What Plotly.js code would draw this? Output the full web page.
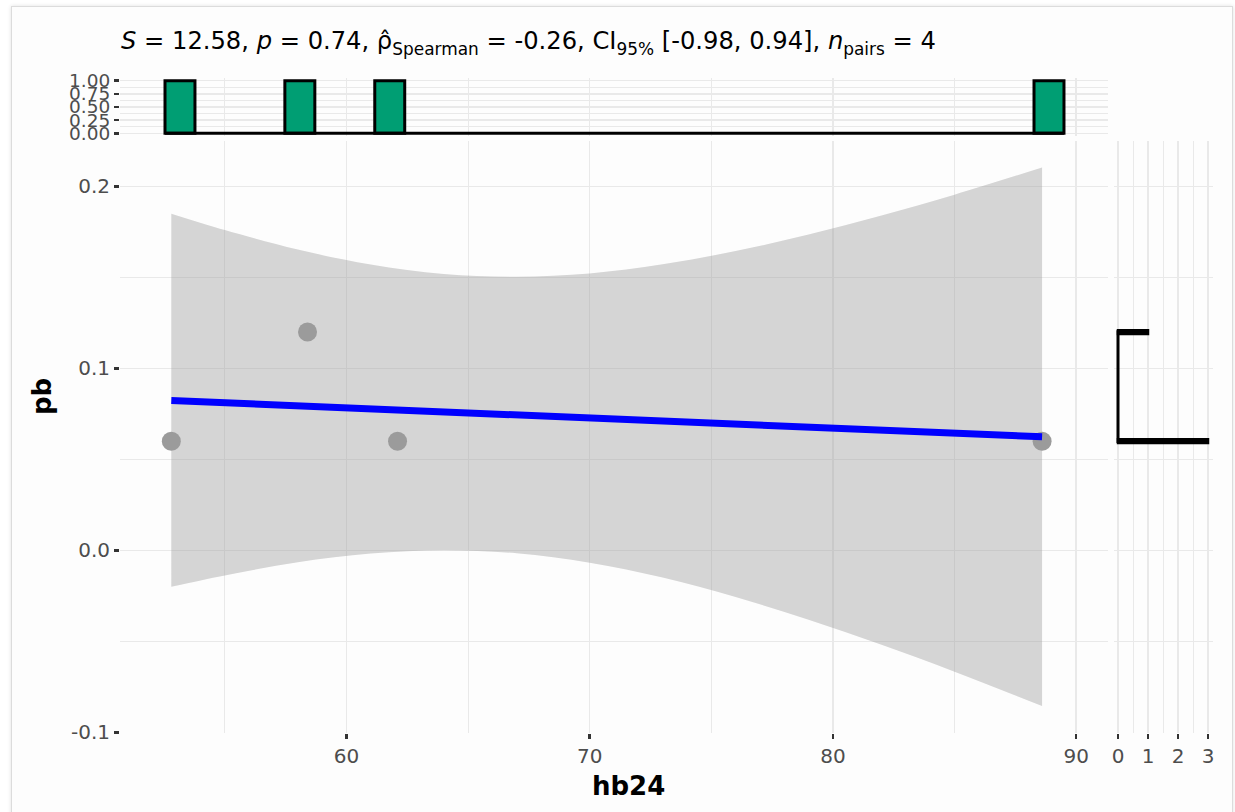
<!DOCTYPE html>
<html>
<head>
<meta charset="utf-8">
<script src="https://cdn.plot.ly/plotly-3.0.1.min.js"></script>
<style>
  html, body { margin: 0; padding: 0; background: #ffffff; width: 1235px; height: 812px; overflow: hidden; }
  #card { position: absolute; left: 11px; top: 6px; width: 1220px; height: 830px; background: #fdfdfd;
          border: 1px solid #dcdcdc; box-shadow: 0 0 4px rgba(0,0,0,0.12); }
  #chart { position: absolute; left: 0; top: 0; width: 1235px; height: 812px; }
</style>
</head>
<body>
<div id="card"></div>
<div id="chart"></div>
<script>
// ---- data ----
const hb24 = [52.8, 58.4, 62.1, 88.6];
const pb = [0.06, 0.12, 0.06, 0.06];

// fitted regression line (end points)
const fitX = [52.8, 88.6];
const fitY = [0.0823, 0.0624];

// confidence band of the fit
const bandX     = [52.8, 55, 58, 61, 64, 67, 70, 73, 76, 79, 82, 85, 88.6];
const bandUpper = [0.185, 0.176, 0.1653, 0.1571, 0.1519, 0.1504, 0.1522, 0.1572, 0.1645, 0.1736, 0.1841, 0.1955, 0.2104];
const bandLower = [-0.020, -0.0138, -0.0065, -0.0017, 0.0001, -0.0016, -0.0068, -0.0150, -0.0257, -0.0382, -0.0519, -0.0667, -0.0856];

// marginal histogram bins
const xBins = {start: 52.54, end: 89.5, size: 1.232};
const yBins = {start: 0.059, end: 0.121, size: 0.002067};

const xTickVals = [60, 70, 80, 90];
const yTickVals = [-0.1, 0.0, 0.1, 0.2];
const yTickText = ['-0.1', '0.0', '0.1', '0.2'];
const topTickVals = [0, 0.25, 0.5, 0.75, 1];
const topTickText = ['0.00', '0.25', '0.50', '0.75', '1.00'];
const rightTickVals = [0, 1, 2, 3];

const titleText = '<i>S</i> = 12.58, <i>p</i> = 0.74, \u03C1\u0302<sub>Spearman</sub> = -0.26, CI<sub>95%</sub> [-0.98, 0.94], <i>n</i><sub>pairs</sub> = 4';

// ---- styles ----
const GREEN = '#009E73';
const GRID = '#e9e9e9';
const FAMILY = 'DejaVu Sans, sans-serif';
const TICKFONT = {family: FAMILY, size: 20, color: '#4d4d4d'};
const W = 1235, H = 812;

const traces = [
  {x: bandX, y: bandLower, xaxis: 'x', yaxis: 'y', mode: 'lines', line: {width: 0, shape: 'spline'},
   hoverinfo: 'skip', showlegend: false},
  {x: bandX, y: bandUpper, xaxis: 'x', yaxis: 'y', mode: 'lines', line: {width: 0, shape: 'spline'},
   fill: 'tonexty', fillcolor: 'rgba(153,153,153,0.4)', hoverinfo: 'skip', showlegend: false},
  {x: hb24, y: pb, xaxis: 'x', yaxis: 'y', mode: 'markers',
   marker: {size: 19, color: '#9b9b9b'}, showlegend: false},
  {x: fitX, y: fitY, xaxis: 'x', yaxis: 'y', mode: 'lines',
   line: {color: '#0000ff', width: 7}, showlegend: false},
  {x: [xBins.start, xBins.end], y: [0, 0], xaxis: 'x2', yaxis: 'y2', mode: 'lines',
   line: {color: '#000', width: 3}, showlegend: false, hoverinfo: 'skip'},
  {type: 'histogram', x: hb24, xbins: xBins, autobinx: false, xaxis: 'x2', yaxis: 'y2',
   marker: {color: GREEN, line: {color: '#000', width: 3}}, showlegend: false},
  {x: [0, 0], y: [yBins.start, yBins.end], xaxis: 'x3', yaxis: 'y3', mode: 'lines',
   line: {color: '#000', width: 3}, showlegend: false, hoverinfo: 'skip'},
  {type: 'histogram', y: pb, ybins: yBins, autobiny: false, orientation: 'h', xaxis: 'x3', yaxis: 'y3',
   marker: {color: '#000', line: {color: '#000', width: 2.5}}, showlegend: false}
];

const mainXDomain = [120 / W, 1108 / W];
const mainYDomain = [(H - 733) / H, (H - 140.6) / H];
const tickStyle = {ticks: 'outside', ticklen: 5, tickwidth: 2.5, tickcolor: '#333333', tickfont: TICKFONT,
                   showline: false, zeroline: false, showgrid: true, gridcolor: GRID, gridwidth: 1.5};

const layout = {
  width: W, height: H,
  margin: {l: 0, r: 0, t: 0, b: 0},
  paper_bgcolor: 'rgba(0,0,0,0)',
  plot_bgcolor: 'rgba(0,0,0,0)',
  font: {family: FAMILY},
  bargap: 0,
  showlegend: false,
  title: {text: titleText, x: 121 / W, xanchor: 'left', xref: 'paper', y: 1 - 41 / H, yanchor: 'middle', yref: 'paper',
          font: {family: FAMILY, size: 24.2, color: '#000'}},
  xaxis: Object.assign({}, tickStyle, {domain: mainXDomain, range: [50.69, 91.31], anchor: 'y',
          tickvals: xTickVals, minor: {dtick: 5, tick0: 0, showgrid: true, gridcolor: GRID, gridwidth: 1}}),
  yaxis: Object.assign({}, tickStyle, {domain: mainYDomain, range: [-0.1004, 0.2252], anchor: 'x',
          tickvals: yTickVals, ticktext: yTickText,
          minor: {dtick: 0.05, tick0: 0, showgrid: true, gridcolor: GRID, gridwidth: 1}}),
  xaxis2: Object.assign({}, tickStyle, {domain: mainXDomain, range: [50.69, 91.31], anchor: 'y2',
          tickvals: xTickVals, showticklabels: false, ticks: '',
          minor: {dtick: 5, tick0: 0, showgrid: true, gridcolor: GRID, gridwidth: 1}}),
  yaxis2: Object.assign({}, tickStyle, {domain: [(H - 135.9) / H, (H - 78.1) / H], range: [-0.05, 1.05], anchor: 'x2',
          tickvals: topTickVals, ticktext: topTickText, tickfont: {family: FAMILY, size: 18.5, color: '#4d4d4d'},
          minor: {dtick: 0.125, tick0: 0, showgrid: true, gridcolor: GRID, gridwidth: 1}}),
  xaxis3: Object.assign({}, tickStyle, {domain: [1113.5 / W, 1212.5 / W], range: [-0.15, 3.15], anchor: 'y3',
          tickvals: rightTickVals,
          minor: {dtick: 0.5, tick0: 0, showgrid: true, gridcolor: GRID, gridwidth: 1}}),
  yaxis3: Object.assign({}, tickStyle, {domain: mainYDomain, range: [-0.1004, 0.2252], anchor: 'x3',
          tickvals: yTickVals, showticklabels: false, ticks: '',
          minor: {dtick: 0.05, tick0: 0, showgrid: true, gridcolor: GRID, gridwidth: 1}}),
  annotations: [
    {text: '<b>hb24</b>', xref: 'paper', yref: 'paper', x: 628 / W, y: 1 - 786 / H, xanchor: 'center', yanchor: 'middle',
     showarrow: false, font: {family: FAMILY, size: 26, color: '#000'}},
    {text: '<b>pb</b>', xref: 'paper', yref: 'paper', x: 42 / W, y: 1 - 397 / H, xanchor: 'center', yanchor: 'middle',
     textangle: -90, showarrow: false, font: {family: FAMILY, size: 26, color: '#000'}}
  ]
};

Plotly.newPlot('chart', traces, layout, {displayModeBar: false, staticPlot: true});
</script>
</body>
</html>
